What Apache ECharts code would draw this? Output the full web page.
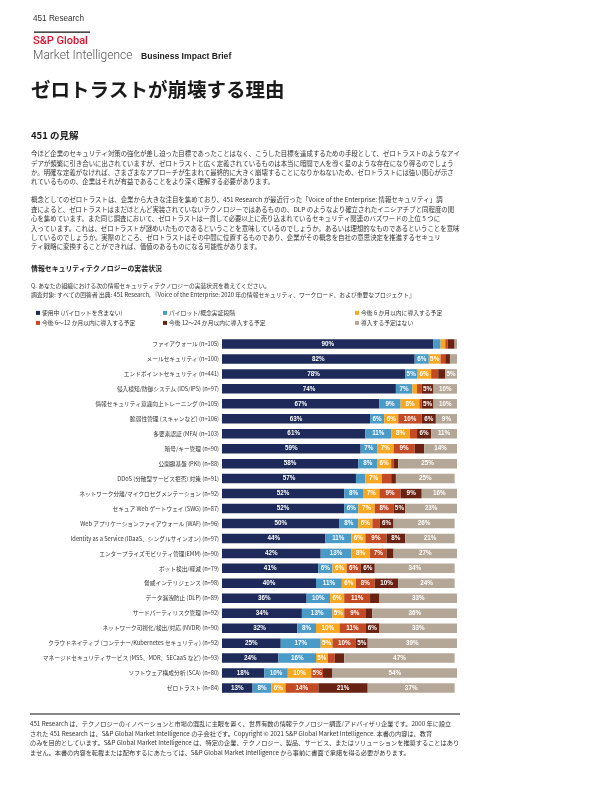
<!DOCTYPE html>
<html><head><meta charset="utf-8">
<script src="https://cdn.jsdelivr.net/npm/echarts@6/dist/echarts.min.js"></script>
<style>html,body{margin:0;padding:0;background:#fff}#c{width:612px;height:792px}</style>
</head><body><div id="c"></div>
<script>
const categories = [
'ファイアウォール (n=105)',
'メールセキュリティ (n=100)',
'エンドポイントセキュリティ (n=441)',
'侵入検知/防御システム (IDS/IPS) (n=97)',
'情報セキュリティ意識向上トレーニング (n=105)',
'脆弱性管理 (スキャンなど) (n=106)',
'多要素認証 (MFA) (n=103)',
'暗号/キー管理 (n=90)',
'公開鍵基盤 (PKI) (n=88)',
'DDoS (分散型サービス拒否) 対策 (n=91)',
'ネットワーク分離/マイクロセグメンテーション (n=92)',
'セキュア Web ゲートウェイ (SWG) (n=87)',
'Web アプリケーションファイアウォール (WAF) (n=96)',
'Identity as a Service (IDaaS、シングルサインオン) (n=97)',
'エンタープライズモビリティ管理(EMM) (n=90)',
'ボット検出/軽減 (n=79)',
'脅威インテリジェンス (n=98)',
'データ漏洩防止 (DLP) (n=89)',
'サードパーティリスク管理 (n=92)',
'ネットワーク可視化/検出/対応 (NVDR) (n=90)',
'クラウドネイティブ (コンテナー/Kubernetes セキュリティ) (n=92)',
'マネージドセキュリティサービス (MSS、MDR、SECaaS など) (n=93)',
'ソフトウェア構成分析 (SCA) (n=80)',
'ゼロトラスト (n=84)'
];
const seriesNames = ['使用中 (パイロットを含まない)','パイロット/概念実証段階','今後 6 か月以内に導入する予定','今後 6～12 か月以内に導入する予定','今後 12～24 か月以内に導入する予定','導入する予定はない'];
const inUse      = [90,82,78,74,67,63,61,59,58,57,52,52,50,44,42,41,40,36,34,32,25,24,18,13];
const pilot      = [3,6,5,7,9,6,11,7,8,4,8,6,8,11,13,6,11,10,13,8,17,16,10,8];
const sixMonths  = [2,5,6,2,8,6,8,7,6,7,7,7,6,6,8,6,6,6,5,10,5,5,10,6];
const sixTo12    = [1,2,3,2,1,10,3,9,1,4,9,8,3,9,7,6,8,11,9,11,10,3,5,14];
const twelveTo24 = [3,2,3,5,5,6,6,4,2,2,9,5,6,8,3,6,10,4,3,6,5,4,4,21];
const noPlan     = [1,3,5,10,10,9,11,14,25,25,16,23,26,21,27,34,24,33,36,33,39,47,54,37];
const colors = ['#1e2b5a','#4a9ac8','#f7a823','#c24b26','#6a2313','#b5a797'];

const para1 = [
'今ほど企業のセキュリティ対策の強化が差し迫った目標であったことはなく、こうした目標を達成するための手段として、ゼロトラストのようなアイ',
'デアが頻繁に引き合いに出されていますが、ゼロトラストと広く定義されているものは本当に暗闇で人を導く星のような存在になり得るのでしょう',
'か。明確な定義がなければ、さまざまなアプローチが生まれて最終的に大きく崩壊することになりかねないため、ゼロトラストには強い関心が示さ',
'れているものの、企業はそれが有益であることをより深く理解する必要があります。'
];
const para2 = [
'概念としてのゼロトラストは、企業から大きな注目を集めており、451 Research が最近行った「Voice of the Enterprise: 情報セキュリティ」調',
'査によると、ゼロトラストはまだほとんど実装されていないテクノロジーではあるものの、DLP のようなより確立されたイニシアチブと同程度の関',
'心を集めています。また同じ調査において、ゼロトラストは一貫して必要以上に売り込まれているセキュリティ関連のバズワードの上位 5 つに',
'入っています。これは、ゼロトラストが謎めいたものであるということを意味しているのでしょうか。あるいは理想的なものであるということを意味',
'しているのでしょうか。実際のところ、ゼロトラストはその中間に位置するものであり、企業がその概念を自社の意思決定を推進するセキュリ',
'ティ戦略に変換することができれば、価値のあるものになる可能性があります。'
];
const footer = [
'451 Research は、テクノロジーのイノベーションと市場の混乱に主眼を置く、世界有数の情報テクノロジー調査/アドバイザリ企業です。2000 年に設立',
'された 451 Research は、S&P Global Market Intelligence の子会社です。Copyright © 2021 S&P Global Market Intelligence. 本書の内容は、教育',
'のみを目的としています。S&P Global Market Intelligence は、特定の企業、テクノロジー、製品、サービス、またはソリューションを推奨することはあり',
'ません。本書の内容を転載または配布するにあたっては、S&P Global Market Intelligence から事前に書面で承諾を得る必要があります。'
];

const JP = '"Noto Sans CJK JP", "Liberation Sans", sans-serif';
const LAT = '"Liberation Sans", "Noto Sans CJK JP", sans-serif';
function t(text, x, y, size, opts) {
  opts = opts || {};
  return {type:'text', x:x, y:y, silent:true, style:{text:text, fill:opts.fill||'#222', fontSize:size,
    fontFamily:opts.family||JP, fontWeight:opts.weight||'normal', verticalAlign:'middle', align:opts.align||'left'}};
}
const graphics = [];
graphics.push(t('451 Research', 33, 19, 8.2, {family:LAT, fill:'#333'}));
graphics.push({type:'rect', shape:{x:34,y:31.5,width:56,height:1.2}, style:{fill:'#111'}, silent:true});
graphics.push(t('S&P Global', 33, 41, 11, {family:'Roboto, "Liberation Sans", sans-serif', fill:'#e0102f', weight:500}));
graphics.push(t('Market Intelligence', 33, 56, 12, {family:'Roboto, "Liberation Sans", sans-serif', fill:'#555', weight:300}));
graphics.push(t('Business Impact Brief', 141, 57, 8.6, {family:LAT, fill:'#222', weight:'bold'}));
graphics.push(t('ゼロトラストが崩壊する理由', 31, 90, 19.5, {weight:'bold', fill:'#1a1a1a'}));
graphics.push(t('451 の見解', 31, 135, 9.5, {weight:'bold', fill:'#1a1a1a'}));
para1.forEach((s,i)=>graphics.push(t(s, 31, 154 + i*9.1, 6.42, {fill:'#333'})));
para2.forEach((s,i)=>graphics.push(t(s, 31, 200 + i*9.4, 6.42, {fill:'#333'})));
graphics.push(t('情報セキュリティテクノロジーの実装状況', 31, 268, 6.9, {weight:'bold', fill:'#1a1a1a'}));
graphics.push(t('Q. あなたの組織における次の情報セキュリティテクノロジーの実装状況を教えてください。', 31, 286, 5.8, {fill:'#333'}));
graphics.push(t('調査対象: すべての回答者 出典: 451 Research, 『Voice of the Enterprise: 2020 年の情報セキュリティ、ワークロード、および重要なプロジェクト』', 31, 295, 5.8, {fill:'#333'}));
graphics.push({type:'rect', shape:{x:30,y:713.5,width:430,height:1}, style:{fill:'#111'}, silent:true});
footer.forEach((s,i)=>graphics.push(t(s, 30, 724 + i*9.4, 6.2, {fill:'#333'})));

const dataArr = [inUse, pilot, sixMonths, sixTo12, twelveTo24, noPlan];
const legendPos = [[36,310],[163,310],[355,310],[36,320],[163,320],[355,320]];
const legends = seriesNames.map((n,i)=>({
  data:[n], left:legendPos[i][0], top:legendPos[i][1], itemWidth:4, itemHeight:4, itemGap:0,
  icon:'rect', padding:0, selectedMode:false,
  textStyle:{fontSize:5.8, fontFamily:JP, color:'#333', padding:[0,0,0,-3]}
}));

const chart = echarts.init(document.getElementById('c'), null, {renderer:'canvas'});
chart.setOption({
  animation:false,
  color:colors,
  legend:legends,
  graphic:graphics,
  grid:{left:222, right:155, top:336.5, height:359, containLabel:false},
  xAxis:{type:'value', min:0, max:100, show:false},
  yAxis:{type:'category', data:categories, inverse:true,
    axisLine:{show:false}, axisTick:{show:false},
    axisLabel:{fontSize:5.7, fontFamily:JP, color:'#333', margin:3}},
  series: dataArr.map((d,i)=>({
    name:seriesNames[i], type:'bar', stack:'all', data:d, barWidth:9.5,
    itemStyle:{color:colors[i]},
    label:{show:true, position:'inside', color:'#fff', fontSize:6.3, fontWeight:'bold', fontFamily:LAT,
      formatter:p=>p.value>=5?p.value+'%':''}
  }))
});
</script></body></html>
